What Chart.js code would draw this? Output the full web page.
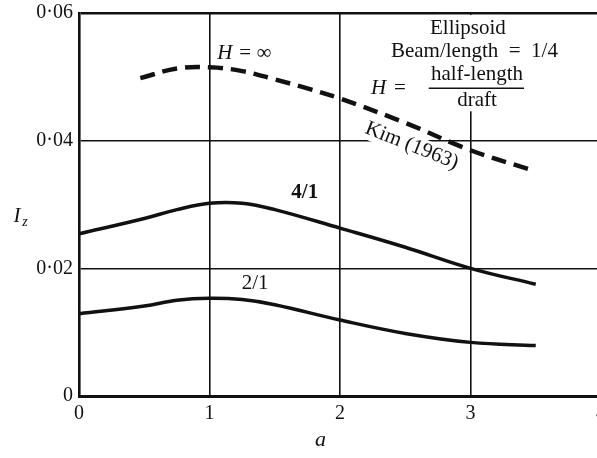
<!DOCTYPE html>
<html>
<head>
<meta charset="utf-8">
<script src="https://cdn.jsdelivr.net/npm/chart.js@4.4.1/dist/chart.umd.min.js"></script>
<style>
  html, body { margin: 0; padding: 0; background: #fff; overflow: hidden; }
  #wrap { position: relative; width: 612px; height: 458px; }
</style>
</head>
<body>
<div id="wrap"><canvas id="chart"></canvas></div>
<script>
// Ellipsoid, beam/length = 1/4 — I_z against a
const aSolid = [0, 0.5, 0.75, 1.0, 1.25, 1.5, 2.0, 2.5, 3.0, 3.5];
const ratio4 = [0.0254, 0.0278, 0.0292, 0.0302, 0.0302, 0.0292, 0.0263, 0.0233, 0.0200, 0.0175];
const ratio2 = [0.0129, 0.0141, 0.0150, 0.0153, 0.0151, 0.0143, 0.0119, 0.0098, 0.0084, 0.0079];

const aKim = [0.47, 0.75, 1.0, 1.25, 1.5, 1.75, 2.0, 2.5, 3.0, 3.47];
const kimInf = [0.0498, 0.0513, 0.0515, 0.0509, 0.0496, 0.0482, 0.0466, 0.0428, 0.0385, 0.0354];

const xTicks = [0, 1, 2, 3, 4];
const yTicks = [0, 0.02, 0.04, 0.06];

const SERIF = "'Liberation Serif', 'DejaVu Serif', serif";

const pts = (xs, ys) => xs.map((x, i) => ({ x: x, y: ys[i] }));

const notes = {
    id: 'notes',
    beforeDatasetsDraw(chart) {
        const { ctx, scales: { x, y } } = chart;
        const P = (a, v) => [x.getPixelForValue(a), y.getPixelForValue(v)];
        ctx.save();
        ctx.fillStyle = '#fff';
        // clear the grid behind the legend block
        const [bx0, by0] = P(2.75, 0.0597);
        const [bx1, by1] = P(3.25, 0.0446);
        ctx.fillRect(bx0, by0, bx1 - bx0, by1 - by0);
        // clear behind "Kim (1963)"
        const [kx, ky] = P(2.55, 0.0392);
        ctx.translate(kx, ky);
        ctx.rotate(21.5 * Math.PI / 180);
        ctx.fillRect(-54, -11, 108, 22);
        ctx.restore();
    },
    afterDatasetsDraw(chart) {
        const { ctx, scales: { x, y } } = chart;
        const P = (a, v) => [x.getPixelForValue(a), y.getPixelForValue(v)];
        ctx.save();
        ctx.fillStyle = '#111';
        ctx.textBaseline = 'middle';
        ctx.textAlign = 'center';

        const put = (txt, a, v, font) => {
            const [px, py] = P(a, v);
            ctx.font = font;
            ctx.fillText(txt, px, py);
        };

        // H = infinity label
        const [hx, hy] = P(1.06, 0.0536);
        ctx.textAlign = 'left';
        ctx.font = 'italic 21px ' + SERIF;
        ctx.fillText('H', hx, hy);
        ctx.font = '21px ' + SERIF;
        ctx.fillText('= \u221E', hx + 22, hy);
        ctx.textAlign = 'center';

        put('4/1', 1.73, 0.0318, 'bold 21px ' + SERIF);
        put('2/1', 1.35, 0.0177, '21px ' + SERIF);

        // Kim (1963) along the dashed curve
        const [kx, ky] = P(2.55, 0.0392);
        ctx.save();
        ctx.translate(kx, ky);
        ctx.rotate(21.5 * Math.PI / 180);
        ctx.font = '21px ' + SERIF;
        ctx.fillText('Kim (1963)', 0, 0);
        ctx.restore();

        // legend block, top right
        put('Ellipsoid', 2.98, 0.0576, '21px ' + SERIF);
        put('Beam/length  =  1/4', 3.03, 0.0539, '21px ' + SERIF);
        put('half-length', 3.05, 0.0503, '21px ' + SERIF);
        put('draft', 3.05, 0.0463, '21px ' + SERIF);
        const [fx0, fy] = P(2.68, 0.0482);
        const [fx1] = P(3.41, 0.0482);
        ctx.lineWidth = 1.6;
        ctx.strokeStyle = '#111';
        ctx.beginPath();
        ctx.moveTo(fx0, fy);
        ctx.lineTo(fx1, fy);
        ctx.stroke();
        const [ex, ey] = P(2.43, 0.0482);
        ctx.textAlign = 'right';
        ctx.font = 'italic 21px ' + SERIF;
        ctx.fillText('H', ex - 10, ey);
        ctx.font = '21px ' + SERIF;
        ctx.textAlign = 'left';
        ctx.fillText('=', ex - 2, ey);

        // axis titles
        ctx.textAlign = 'center';
        ctx.font = 'italic 22px ' + SERIF;
        ctx.fillText('a', x.getPixelForValue(1.85), 440);
        const yMid = y.getPixelForValue(0.0281);
        ctx.font = 'italic 21px ' + SERIF;
        ctx.fillText('I', 17, yMid);
        ctx.font = 'italic 14px ' + SERIF;
        ctx.fillText('z', 25, yMid + 6);
        ctx.restore();
    }
};

const lineStyle = { borderColor: '#111', pointRadius: 0, tension: 0.4 };

new Chart(document.getElementById('chart'), {
    type: 'line',
    data: {
        datasets: [{
            ...lineStyle,
            label: 'H = \u221E (Kim 1963)',
            data: pts(aKim, kimInf),
            borderWidth: 4.5,
            borderDash: [15, 8]
        }, {
            ...lineStyle,
            label: '4/1',
            data: pts(aSolid, ratio4),
            borderWidth: 3.5
        }, {
            ...lineStyle,
            label: '2/1',
            data: pts(aSolid, ratio2),
            borderWidth: 3.5
        }]
    },
    options: {
        responsive: true,
        maintainAspectRatio: false,
        animation: false,
        layout: { padding: { top: 13, left: 0, right: 4, bottom: 0 } },
        plugins: {
            legend: { display: false },
            tooltip: { enabled: false }
        },
        scales: {
            x: {
                type: 'linear',
                min: 0,
                max: 4,
                afterBuildTicks: (s) => { s.ticks = xTicks.map(v => ({ value: v })); },
                afterFit: (s) => { s.height = 62; },
                grid: {
                    color: '#111',
                    lineWidth: (c) => (c.tick && c.tick.value === 0 ? 0 : 1.6),
                    drawTicks: false
                },
                border: { color: '#111', width: 3 },
                ticks: {
                    color: '#111',
                    padding: 6,
                    maxRotation: 0,
                    font: { family: SERIF, size: 20 },
                    callback: (v) => String(v)
                }
            },
            y: {
                min: 0,
                max: 0.06,
                afterBuildTicks: (s) => { s.ticks = yTicks.map(v => ({ value: v })); },
                afterFit: (s) => { s.width = 79; s.paddingTop = 0; s.paddingBottom = 0; },
                grid: {
                    color: '#111',
                    lineWidth: (c) => (c.tick && c.tick.value === 0.06 ? 2.6 : (c.tick && c.tick.value === 0 ? 0 : 1.6)),
                    drawTicks: false
                },
                border: { color: '#111', width: 2.6 },
                ticks: {
                    color: '#111',
                    padding: 6,
                    font: { family: SERIF, size: 20 },
                    callback: (v) => v === 0 ? '0' : v.toFixed(2).replace('.', '\u00B7')
                }
            }
        }
    },
    plugins: [notes]
});
</script>
</body>
</html>
